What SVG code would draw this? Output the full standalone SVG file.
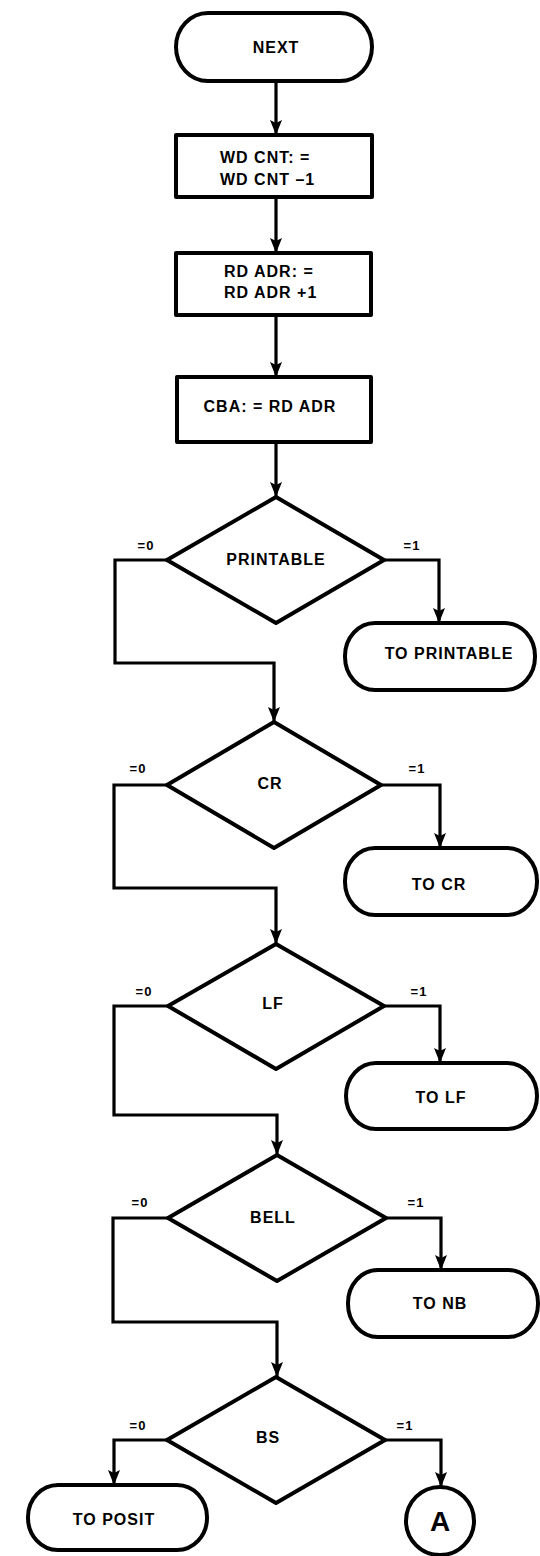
<svg xmlns="http://www.w3.org/2000/svg" width="540" height="1556" viewBox="0 0 540 1556">
  <style>
    .shape { fill: #fff; stroke: #000; stroke-width: 4; stroke-linejoin: round; }
    .wire { fill: none; stroke: #000; stroke-width: 3.2; stroke-linejoin: miter; }
    .t { font-family: "Liberation Sans", Arial, sans-serif; font-weight: bold; font-size: 16px; letter-spacing: 1px; fill: #000; text-anchor: middle; }
    .l { text-anchor: start; }
    .lab { font-family: "Liberation Sans", Arial, sans-serif; font-weight: bold; font-size: 13px; letter-spacing: 1px; fill: #000; text-anchor: middle; }
    .big { font-size: 28px; letter-spacing: 0; }
  </style>
  <defs>
    <marker id="arrow" viewBox="0 0 15 12" refX="15" refY="6" markerWidth="15" markerHeight="12" markerUnits="userSpaceOnUse" orient="auto">
      <path d="M0,0 L15,6 L0,12 L3,6 Z" fill="#000"/>
    </marker>
  </defs>

  <rect width="540" height="1556" fill="#fff"/>

  <!-- connectors -->
  <g id="connectors" class="wire" marker-end="url(#arrow)">
    <path d="M276,81 V135"/>
    <path d="M276,197 V253"/>
    <path d="M276,315 V377"/>
    <path d="M276,442 V497"/>
    <path d="M167,560 H115 V663 H274 V722"/>
    <path d="M384,560 H439 V623"/>
    <path d="M167,785 H114 V888 H276 V944"/>
    <path d="M381,785 H440 V848"/>
    <path d="M168,1006 H114 V1115 H277 V1155"/>
    <path d="M384,1006 H440 V1063"/>
    <path d="M168,1218 H113 V1322 H277 V1377"/>
    <path d="M386,1218 H441 V1270"/>
    <path d="M167,1440 H114 V1485"/>
    <path d="M385,1440 H441 V1487"/>
  </g>

  <!-- branch labels -->
  <g id="labels">
    <text class="lab" x="146" y="550">=0</text>
    <text class="lab" x="412" y="550">=1</text>
    <text class="lab" x="138" y="773">=0</text>
    <text class="lab" x="417" y="773">=1</text>
    <text class="lab" x="144" y="996">=0</text>
    <text class="lab" x="419" y="996">=1</text>
    <text class="lab" x="140" y="1207">=0</text>
    <text class="lab" x="416" y="1207">=1</text>
    <text class="lab" x="138" y="1430">=0</text>
    <text class="lab" x="405" y="1430">=1</text>
  </g>

  <g id="next">
    <rect class="shape" x="176" y="13" width="196" height="68" rx="32" ry="34"/>
    <text class="t" x="276" y="53">NEXT</text>
  </g>

  <g id="wd-cnt">
    <rect class="shape" x="176" y="135" width="196" height="62"/>
    <text class="t l" x="220" y="163">WD CNT: =</text>
    <text class="t l" x="220" y="185">WD CNT –1</text>
  </g>

  <g id="rd-adr">
    <rect class="shape" x="176" y="253" width="195" height="62"/>
    <text class="t l" x="224" y="277">RD ADR: =</text>
    <text class="t l" x="224" y="298">RD ADR +1</text>
  </g>

  <g id="cba">
    <rect class="shape" x="177" y="377" width="194" height="65"/>
    <text class="t" x="270" y="412">CBA: = RD ADR</text>
  </g>

  <g id="printable">
    <polygon class="shape" points="276,497 384,560 276,623 167,560"/>
    <text class="t" x="276" y="565">PRINTABLE</text>
  </g>

  <g id="to-printable">
    <rect class="shape" x="345" y="623" width="190" height="67" rx="30" ry="33"/>
    <text class="t" x="449" y="659">TO PRINTABLE</text>
  </g>

  <g id="cr">
    <polygon class="shape" points="274,722 381,785 274,848 167,785"/>
    <text class="t" x="270" y="789">CR</text>
  </g>

  <g id="to-cr">
    <rect class="shape" x="345" y="848" width="192" height="67" rx="30" ry="33"/>
    <text class="t" x="439" y="890">TO CR</text>
  </g>

  <g id="lf">
    <polygon class="shape" points="276,944 384,1006 276,1069 168,1006"/>
    <text class="t" x="273" y="1009">LF</text>
  </g>

  <g id="to-lf">
    <rect class="shape" x="346" y="1063" width="191" height="66" rx="30" ry="33"/>
    <text class="t" x="441" y="1103">TO LF</text>
  </g>

  <g id="bell">
    <polygon class="shape" points="277,1155 386,1218 277,1281 168,1218"/>
    <text class="t" x="273" y="1223">BELL</text>
  </g>

  <g id="to-nb">
    <rect class="shape" x="348" y="1270" width="190" height="67" rx="30" ry="33"/>
    <text class="t" x="440" y="1309">TO NB</text>
  </g>

  <g id="bs">
    <polygon class="shape" points="276,1377 385,1440 276,1503 167,1440"/>
    <text class="t" x="268" y="1443">BS</text>
  </g>

  <g id="to-posit">
    <rect class="shape" x="28" y="1485" width="179" height="65" rx="30" ry="32"/>
    <text class="t" x="114" y="1525">TO POSIT</text>
  </g>

  <g id="connector-a">
    <circle class="shape" cx="440" cy="1521" r="34"/>
    <text class="t big" x="440" y="1531">A</text>
  </g>
</svg>
